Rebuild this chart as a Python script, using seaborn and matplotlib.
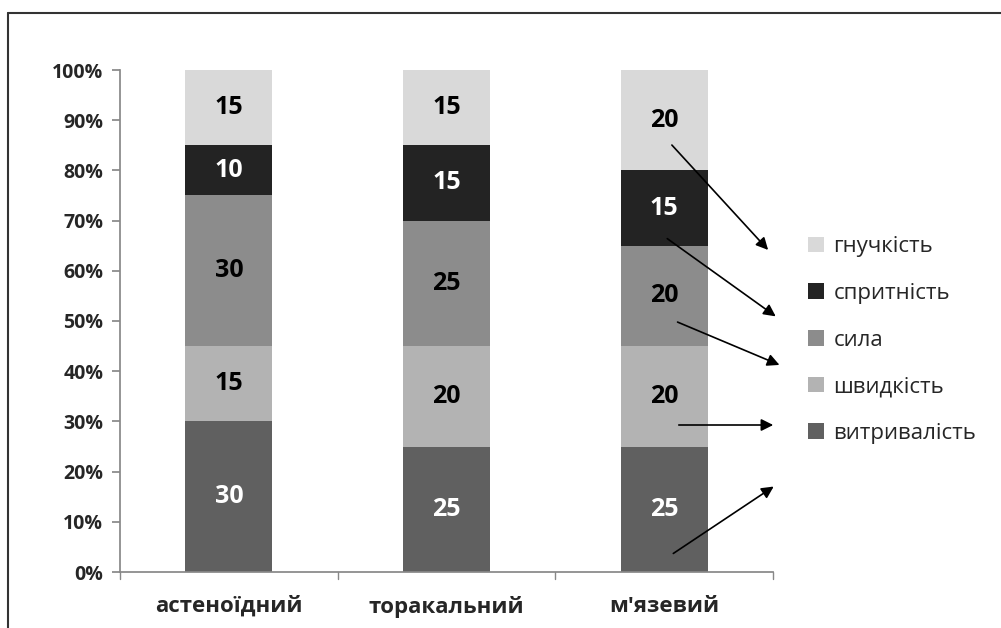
import numpy as np
import matplotlib
matplotlib.use("Agg")
import matplotlib.pyplot as plt
from matplotlib.lines import Line2D
import seaborn as sns

# дані
tipy = ["астеноїдний", "торакальний", "м'язевий"]
yakosti = ["витривалість", "швидкість", "сила", "спритність", "гнучкість"]
vytryvalist = [30, 25, 25]
shvydkist = [15, 20, 20]
syla = [30, 25, 20]
spritnist = [10, 15, 15]
gnuchkist = [15, 15, 20]
kolory = ["#606060", "#b3b3b3", "#8c8c8c", "#232323", "#d9d9d9"]
kolir_tekstu = ["white", "black", "black", "white", "black"]

sns.set_theme(style="white")
plt.rcParams["font.family"] = ["Open Sans", "DejaVu Sans"]

fig = plt.figure(figsize=(10.01, 6.28), dpi=100)
ax = fig.add_axes([120 / 1001, 56 / 628, 653 / 1001, 502 / 628])

serii = [vytryvalist, shvydkist, syla, spritnist, gnuchkist]
niz = np.zeros(len(tipy))
for nazva, znach, kolir, tk in zip(yakosti, serii, kolory, kolir_tekstu):
    sns.barplot(x=tipy, y=znach, bottom=niz, color=kolir, width=0.4,
                saturation=1, linewidth=0, ax=ax, label=nazva)
    for i, v in enumerate(znach):
        ax.text(i, niz[i] + v / 2, str(v), ha="center", va="center",
                fontsize=18, fontweight="bold", color=tk)
    niz = niz + np.array(znach)

ax.set_ylim(0, 100)
ax.set_xlim(-0.5, 2.5)
ax.set_yticks(range(0, 101, 10))
ax.set_yticklabels([f"{t}%" for t in range(0, 101, 10)], fontsize=14, fontweight="bold")
ax.set_xticks([0, 1, 2])
ax.set_xticklabels(tipy, fontsize=16, fontweight="bold")
ax.tick_params(axis="x", length=0, pad=17)
ax.tick_params(axis="y", length=6, color="#888888", left=True, pad=6)
for x in [-0.5, 0.5, 1.5, 2.5]:
    ax.plot([x, x], [0, -1.4], color="#888888", lw=1, clip_on=False)
ax.spines["top"].set_visible(False)
ax.spines["right"].set_visible(False)
ax.spines["left"].set_color("#888888")
ax.spines["bottom"].set_color("#888888")
ax.set_xlabel("")
ax.set_ylabel("")

# легенда у зворотному порядку
h, l = ax.get_legend_handles_labels()
if ax.get_legend() is not None:
    ax.get_legend().remove()
leg = fig.legend(h[::-1], l[::-1], loc="center left",
                 bbox_to_anchor=(788 / 1001, 1 - 340 / 628), frameon=False,
                 fontsize=16, handlelength=0.7, handleheight=0.7,
                 labelspacing=1.15, handletextpad=0.45)

# стрілки від стовпця до легенди
strilky = [((670, 143), (770, 252)), ((665, 237), (778, 318)),
           ((675, 321), (782, 366)), ((676, 425), (776, 425)),
           ((671, 555), (776, 485))]
for (x0, y0), (x1, y1) in strilky:
    fig.patches.append(matplotlib.patches.FancyArrowPatch(
        (x0 / 1001, 1 - y0 / 628), (x1 / 1001, 1 - y1 / 628),
        transform=fig.transFigure, arrowstyle="-|>", mutation_scale=18,
        color="black", lw=1.2))

# рамка
fig.add_artist(Line2D([8 / 1001, 8 / 1001], [0, 1 - 13 / 628], color="#333333", lw=1.5))
fig.add_artist(Line2D([8 / 1001, 1], [1 - 13 / 628, 1 - 13 / 628], color="#333333", lw=1.5))

fig.savefig("out.png", dpi=100)
